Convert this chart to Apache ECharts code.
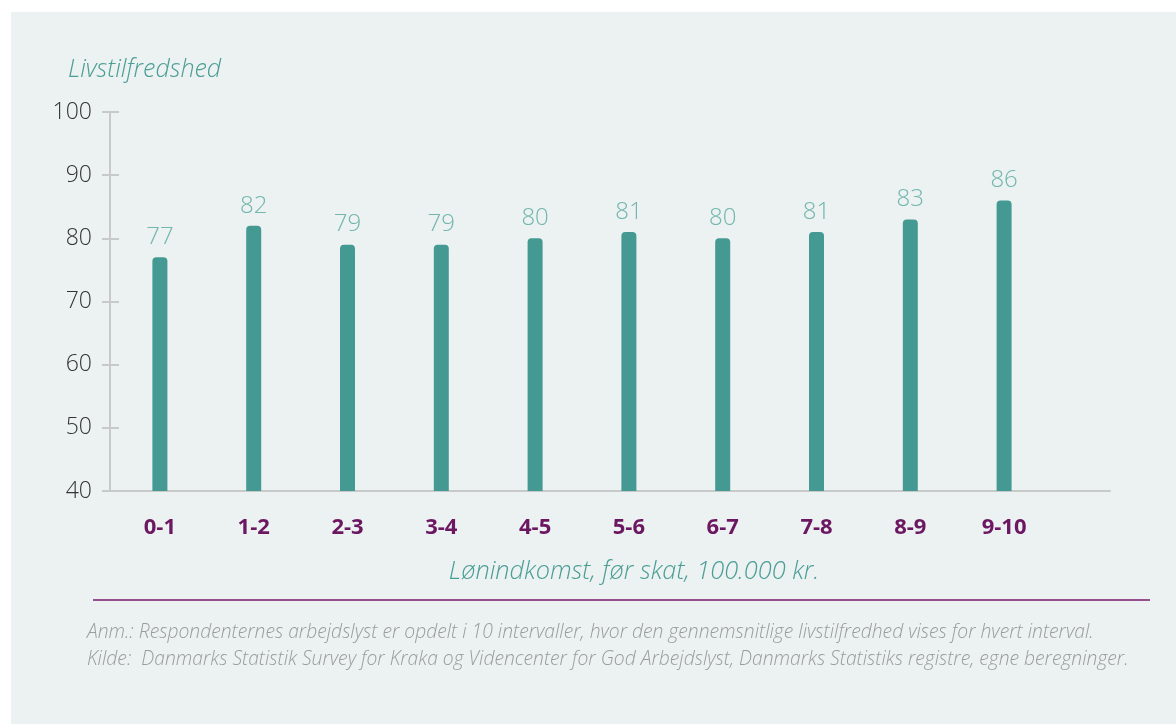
<!DOCTYPE html>
<html>
<head>
<meta charset="utf-8">
<script src="https://cdn.jsdelivr.net/npm/echarts@6/dist/echarts.min.js"></script>
<style>
html,body{margin:0;padding:0;background:#ffffff;width:1176px;height:724px;overflow:hidden;}
#chart{position:absolute;left:11px;top:12px;width:1165px;height:712px;background:#ecf1f1;}
</style>
</head>
<body>
<div id="chart"></div>
<script>
// Data
const categories = ['0-1','1-2','2-3','3-4','4-5','5-6','6-7','7-8','8-9','9-10'];
const values = [77, 82, 79, 79, 80, 81, 80, 81, 83, 86];
const yTicks = [40, 50, 60, 70, 80, 90, 100];
const yAxisTitle = 'Livstilfredshed';
const xAxisTitle = 'Lønindkomst, før skat, 100.000 kr.';
const note1 = 'Anm.: Respondenternes arbejdslyst er opdelt i 10 intervaller, hvor den gennemsnitlige livstilfredhed vises for hvert interval.';
const note2 = 'Kilde:  Danmarks Statistik Survey for Kraka og Videncenter for God Arbejdslyst, Danmarks Statistiks registre, egne beregninger.';

const FONT = '"Open Sans", "DejaVu Sans", sans-serif';
const yMin = yTicks[0], yMax = yTicks[yTicks.length - 1], yStep = yTicks[1] - yTicks[0];
const axisGray = '#c8c9c9';

const chart = echarts.init(document.getElementById('chart'), null, {renderer: 'canvas'});
chart.setOption({
  animation: false,
  backgroundColor: 'transparent',
  textStyle: {fontFamily: FONT},
  grid: [
    {left: 99, top: 100, width: 1000, height: 379, containLabel: false},
    {left: 102, top: 100, width: 938, height: 379, containLabel: false}
  ],
  xAxis: [
    {gridIndex: 0, type: 'value', min: 0, max: 1,
     axisLine: {show: true, onZero: false, lineStyle: {color: axisGray, width: 2}},
     axisTick: {show: false}, axisLabel: {show: false}, splitLine: {show: false}},
    {gridIndex: 1, type: 'category', data: categories,
     axisLine: {show: false}, axisTick: {show: false}, splitLine: {show: false},
     axisLabel: {margin: 26, color: '#6b1761', fontSize: 22, fontWeight: 'bold', fontFamily: FONT}}
  ],
  yAxis: [
    {gridIndex: 0, type: 'value', min: yMin, max: yMax, interval: yStep,
     axisLine: {show: true, lineStyle: {color: axisGray, width: 2}},
     axisTick: {show: true, length: 8, lineStyle: {color: axisGray, width: 2}},
     axisLabel: {margin: 18, color: '#333333', fontSize: 23, fontWeight: 300, fontFamily: FONT},
     splitLine: {show: false}},
    {gridIndex: 0, type: 'value', min: yMin, max: yMax, interval: yStep, position: 'left',
     axisLine: {show: false},
     axisTick: {show: true, inside: true, length: 9, lineStyle: {color: axisGray, width: 2}},
     axisLabel: {show: false}, splitLine: {show: false}},
    {gridIndex: 1, type: 'value', min: yMin, max: yMax, interval: yStep, show: false,
     splitLine: {show: false}}
  ],
  series: [{
    type: 'bar',
    xAxisIndex: 1, yAxisIndex: 2,
    data: values,
    barWidth: 15,
    itemStyle: {color: '#449a93', borderRadius: [4, 4, 0, 0]},
    label: {show: true, position: 'top', distance: 8, color: '#72b6ae', fontSize: 24, fontWeight: 300, fontFamily: FONT}
  }],
  graphic: [
    {type: 'text', x: 57, y: 58, style: {text: yAxisTitle, fill: '#4a9e96', font: 'italic 300 25px ' + FONT, align: 'left', verticalAlign: 'middle'}},
    {type: 'text', x: 623, y: 560, style: {text: xAxisTitle, fill: '#4a9e96', font: 'italic 300 25.3px ' + FONT, align: 'center', verticalAlign: 'middle'}},
    {type: 'line', shape: {x1: 82, y1: 588, x2: 1139, y2: 588}, style: {stroke: '#7a1a6b', lineWidth: 1.5}},
    {type: 'text', x: 76, y: 621, style: {text: note1, fill: '#9a9c9c', font: 'italic 300 19.3px ' + FONT, align: 'left', verticalAlign: 'middle'}},
    {type: 'text', x: 76, y: 648, style: {text: note2, fill: '#9a9c9c', font: 'italic 300 19.3px ' + FONT, align: 'left', verticalAlign: 'middle'}}
  ]
});
</script>
</body>
</html>
